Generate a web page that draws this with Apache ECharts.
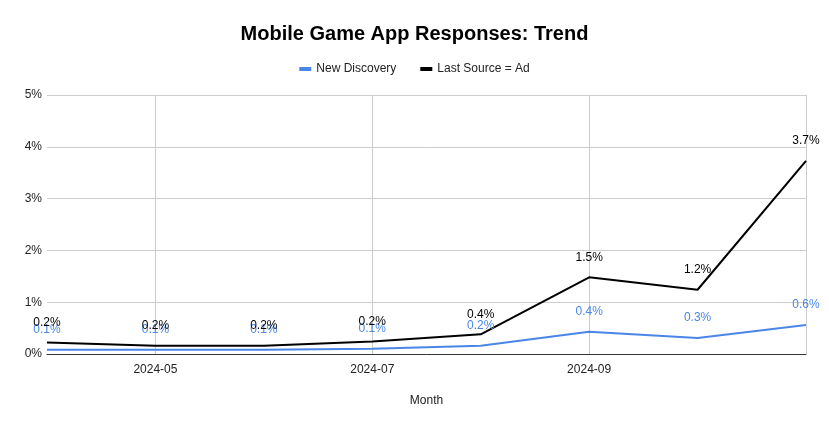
<!DOCTYPE html>
<html><head><meta charset="utf-8">
<script src="https://cdn.jsdelivr.net/npm/echarts@6/dist/echarts.min.js"></script>
<style>html,body{margin:0;padding:0;background:#fff}#c{width:829px;height:429px}</style>
</head><body><div id="c"></div>
<script>
const months = ['2024-04','2024-05','2024-06','2024-07','2024-08','2024-09','2024-10','2024-11'];
const newDiscovery = [0.08, 0.08, 0.08, 0.10, 0.16, 0.43, 0.31, 0.56];
const lastSourceAd = [0.22, 0.16, 0.16, 0.24, 0.38, 1.48, 1.24, 3.73];
const yTicks = [0, 1, 2, 3, 4, 5];

const F = 'Arial, "Liberation Sans", sans-serif';
const chart = echarts.init(document.getElementById('c'));
const lbl = (color) => ({
  show: true, position: 'top', distance: 14, fontFamily: F, fontSize: 12, color: color,
  formatter: p => p.value.toFixed(1) + '%'
});
chart.setOption({
  animation: false,
  title: { text: 'Mobile Game App Responses: Trend', left: 'center', top: 19,
    textStyle: { fontFamily: F, fontWeight: 'bold', fontSize: 20, color: '#000' } },
  legend: { top: 58, left: 'center', itemWidth: 12, itemHeight: 4, itemGap: 24, icon: 'rect',
    textStyle: { fontFamily: F, fontSize: 12, color: '#222' },
    data: ['New Discovery', 'Last Source = Ad'] },
  grid: { left: 47, right: 23, top: 95, bottom: 75 },
  xAxis: {
    type: 'category', data: months, boundaryGap: false,
    name: 'Month', nameLocation: 'middle', nameGap: 41,
    nameTextStyle: { fontFamily: F, fontSize: 12, color: '#222' },
    axisLine: { lineStyle: { color: '#333', width: 1 } },
    axisTick: { show: false },
    axisLabel: { interval: (i) => i % 2 === 1 && i < 7, fontFamily: F, fontSize: 12, color: '#222', margin: 10 },
    splitLine: { show: true, interval: (i) => i % 2 === 1, lineStyle: { color: '#ccc' } }
  },
  yAxis: {
    type: 'value', min: 0, max: 5, interval: 1,
    axisLine: { show: false }, axisTick: { show: false },
    axisLabel: { fontFamily: F, fontSize: 12, color: '#222', margin: 5,
      formatter: v => yTicks.includes(v) ? v + '%' : '' },
    splitLine: { lineStyle: { color: '#ccc' } }
  },
  series: [
    { name: 'New Discovery', type: 'line', data: newDiscovery, showSymbol: true, symbol: 'circle', symbolSize: 0.1,
      lineStyle: { color: '#4a86e8', width: 2 }, itemStyle: { color: '#4a86e8' }, label: lbl('#4a86e8') },
    { name: 'Last Source = Ad', type: 'line', data: lastSourceAd, showSymbol: true, symbol: 'circle', symbolSize: 0.1,
      lineStyle: { color: '#000', width: 2 }, itemStyle: { color: '#000' }, label: lbl('#000') }
  ]
});
</script></body></html>
